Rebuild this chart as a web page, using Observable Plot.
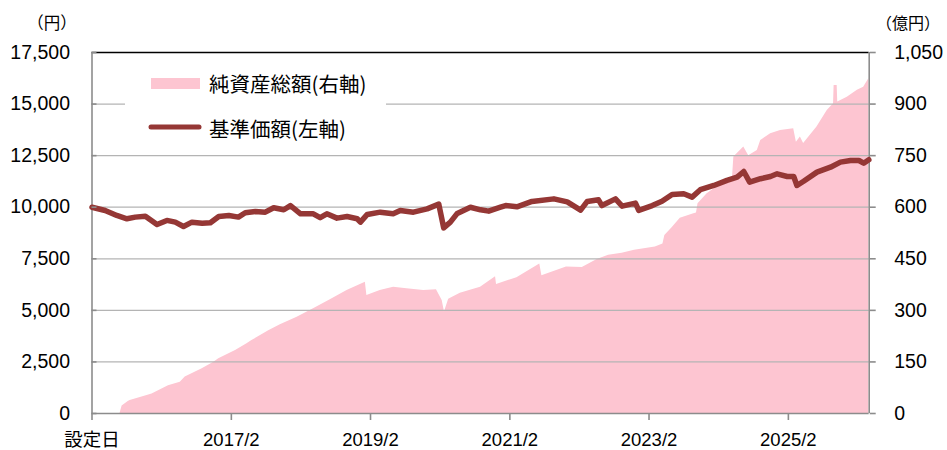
<!DOCTYPE html>
<html>
<head>
<meta charset="utf-8">
<script src="https://cdn.jsdelivr.net/npm/d3@7"></script>
<script src="https://cdn.jsdelivr.net/npm/@observablehq/plot@0.6"></script>
<style>
  html, body { margin: 0; padding: 0; background: #fff; }
  #chart { width: 947px; height: 450px; position: relative; }
</style>
</head>
<body>
<div id="chart"></div>
<script>
// ---- Data ----
// 基準価額 (円, left axis)
const navDates = [
  "2015-02-01","2015-04-11","2015-06-11","2015-08-03","2015-09-16","2015-11-08",
  "2016-01-08","2016-02-29","2016-04-13","2016-05-26","2016-07-09","2016-09-01",
  "2016-10-14","2016-11-27","2017-01-19","2017-03-10","2017-04-15","2017-06-07",
  "2017-07-29","2017-09-11","2017-11-03","2017-12-08","2018-01-30","2018-04-07",
  "2018-05-13","2018-06-17","2018-08-09","2018-10-01","2018-11-23","2018-12-10",
  "2019-01-15","2019-03-24","2019-05-31","2019-07-07","2019-09-14","2019-11-25",
  "2020-01-25","2020-02-20","2020-03-26","2020-05-01","2020-07-09","2020-08-31",
  "2020-10-13","2020-12-14","2021-01-10","2021-03-10","2021-05-28","2021-09-20",
  "2021-11-29","2022-02-07","2022-03-14","2022-05-12","2022-05-30","2022-08-09",
  "2022-09-13","2022-11-22","2022-12-09","2023-02-18","2023-04-10","2023-06-02",
  "2023-08-02","2023-09-15","2023-10-28","2024-01-07","2024-03-16","2024-05-08",
  "2024-06-12","2024-07-13","2024-09-08","2024-10-30","2024-12-04","2025-01-26",
  "2025-03-01","2025-03-18","2025-04-22","2025-07-01","2025-09-10","2025-11-01",
  "2025-12-24","2026-02-06","2026-03-03","2026-03-30"
];
const navValues = [
  10000, 9840, 9600, 9440, 9520, 9565,
  9160, 9360, 9275, 9065, 9275, 9225,
  9245, 9550, 9600, 9520, 9730, 9795,
  9760, 9975, 9875, 10080, 9680, 9680,
  9490, 9680, 9470, 9550, 9440, 9275,
  9650, 9760, 9680, 9840, 9760, 9920,
  10150, 9000, 9275, 9700, 10000, 9875,
  9810, 10000, 10080, 10020, 10280, 10405,
  10260, 9860, 10280, 10360, 10080, 10405,
  10050, 10200, 9850, 10080, 10290, 10620,
  10650, 10490, 10850, 11055, 11300, 11455,
  11730, 11215, 11380, 11490, 11620, 11490,
  11490, 11055, 11260, 11700, 11940, 12185,
  12265, 12265, 12135, 12300
];

// 純資産総額 (億円, right axis)
const assetDates = [
  "2015-02-01","2015-06-28","2015-07-09","2015-08-10","2015-08-20","2015-11-17",
  "2015-12-13","2016-03-08","2016-05-09","2016-06-04","2016-09-01","2016-11-01",
  "2016-11-27","2017-02-23","2017-04-24","2017-05-20","2017-08-16","2017-10-16",
  "2018-01-12","2018-04-08","2018-07-05","2018-10-01","2019-01-05","2019-01-13",
  "2019-03-24","2019-06-02","2019-08-11","2019-11-07","2020-01-13","2020-02-12",
  "2020-02-24","2020-03-17","2020-05-17","2020-08-31","2020-11-18","2020-11-23",
  "2021-03-10","2021-07-08","2021-07-19","2021-11-25","2022-02-16","2022-05-05",
  "2022-07-04","2022-09-13","2022-11-17","2023-03-06","2023-04-15","2023-04-25",
  "2023-06-02","2023-07-15","2023-09-24","2023-10-08","2023-10-16","2023-12-03",
  "2024-01-25","2024-04-13","2024-04-21","2024-06-12","2024-07-08","2024-08-22",
  "2024-09-09","2024-10-31","2024-12-22","2025-03-01","2025-03-15","2025-04-05",
  "2025-04-22","2025-07-01","2025-08-24","2025-09-26","2025-09-29","2025-10-15",
  "2025-10-18","2025-12-07","2026-01-29","2026-03-03","2026-03-30"
];
const assetValues = [
  0, 0, 22, 35, 38, 52,
  57, 81, 91, 106, 130, 149,
  159, 183, 203, 212, 241, 258,
  280, 305, 331, 358, 382, 343,
  358, 367, 363, 358, 360, 329,
  295, 332, 350, 367, 398, 375,
  395, 435, 401, 426, 425, 448,
  460, 466, 475, 484, 493, 518,
  540, 568, 581, 583, 610, 639,
  660, 678, 746, 775, 750, 765,
  794, 814, 823, 828, 789, 804,
  785, 833, 881, 901, 954, 954,
  906, 920, 940, 949, 974
];

// Axes
const yTicksLeft = [0, 2500, 5000, 7500, 10000, 12500, 15000, 17500];
const yMaxLeft = 17500;
const yMaxRight = 1050;
const xTickDates = ["2015-02-01","2017-02-01","2019-02-01","2021-02-01","2023-02-01","2025-02-01"];
const xTickLabels = ["設定日","2017/2","2019/2","2021/2","2023/2","2025/2"];
const xDomain = ["2015-02-01","2026-04-01"];

const legendLabels = ["純資産総額(右軸)", "基準価額(左軸)"];
const unitLeft = "（円）";
const unitRight = "（億円）";

// ---- Build tables ----
const K = yMaxLeft / yMaxRight;
const nav = navDates.map((d, i) => ({date: new Date(d), value: navValues[i]}));
const assets = assetDates.map((d, i) => ({date: new Date(d), value: assetValues[i]}));
const xTicks = xTickDates.map(d => new Date(d));
const labelOf = new Map(xTicks.map((d, i) => [+d, xTickLabels[i]]));
const fmt = d3.format(",");

const PINK = "#fdc5d1";
const RED = "#953735";
const GRID = "#b4b4b4";
const AXIS = "#8c8c8c";

const plot = Plot.plot({
  width: 947,
  height: 450,
  marginLeft: 91.5,
  marginRight: 78.3,
  marginTop: 52,
  marginBottom: 37,
  style: {
    fontFamily: "'Liberation Sans', 'Noto Sans CJK JP', sans-serif",
    fontSize: "19.5px",
    color: "#000",
    background: "#fff",
    overflow: "visible"
  },
  x: {type: "utc", domain: xDomain.map(d => new Date(d))},
  y: {domain: [0, yMaxLeft]},
  marks: [
    Plot.areaY(assets, {x: "date", y: d => d.value * K, fill: PINK, curve: "linear"}),
    Plot.gridY(yTicksLeft.filter(v => v > 0 && v < yMaxLeft), {stroke: GRID, strokeOpacity: 1, strokeWidth: 1.2}),
    Plot.ruleY([yMaxLeft], {stroke: "#000", strokeWidth: 1.6}),
    Plot.ruleY([0], {stroke: AXIS, strokeWidth: 1.6}),
    Plot.ruleX([new Date(xDomain[0])], {stroke: AXIS, strokeWidth: 1.6}),
    Plot.ruleX([new Date(xDomain[1])], {stroke: AXIS, strokeWidth: 1.6}),
    Plot.lineY(nav, {x: "date", y: "value", stroke: RED, strokeWidth: 5.5, strokeLinejoin: "round", strokeLinecap: "round", curve: "linear"}),
    Plot.axisY(yTicksLeft, {anchor: "left", tickSize: -5, tickPadding: 27, stroke: AXIS, strokeWidth: 1.6, tickFormat: d => fmt(d), label: null}),
    Plot.axisY(yTicksLeft, {anchor: "right", tickSize: 6, tickPadding: 19, stroke: AXIS, strokeWidth: 1.6, tickFormat: d => fmt(d / K), label: null}),
    Plot.axisX(xTicks, {anchor: "bottom", tickSize: 7, tickPadding: 12.5, fontSize: 18.5, stroke: AXIS, strokeWidth: 1.6, tickFormat: d => labelOf.get(+d), label: null})
  ]
});

document.getElementById("chart").appendChild(plot);

// ---- Unit labels and legend ----
const svg = d3.select(plot);
const cjk = "'Noto Sans CJK JP', 'Liberation Sans', sans-serif";

svg.append("text").text(unitLeft)
  .attr("x", 52).attr("y", 22).attr("text-anchor", "middle")
  .attr("dominant-baseline", "central")
  .style("font-family", cjk).style("font-size", "16.5px").attr("fill", "#000");
svg.append("text").text(unitRight)
  .attr("x", 876).attr("y", 22).attr("text-anchor", "start")
  .attr("dominant-baseline", "central")
  .style("font-family", cjk).style("font-size", "16px").attr("fill", "#000");

const lg = svg.append("g").attr("text-anchor", "start");
lg.append("rect").attr("x", 125).attr("y", 62).attr("width", 261).attr("height", 86).attr("fill", "#fff");
lg.append("rect").attr("x", 151).attr("y", 78).attr("width", 49).attr("height", 11).attr("fill", PINK);
lg.append("line").attr("x1", 151).attr("x2", 199).attr("y1", 127).attr("y2", 127)
  .attr("stroke", RED).attr("stroke-width", 5).attr("stroke-linecap", "round");
lg.append("text").text(legendLabels[0]).attr("x", 209).attr("y", 83)
  .attr("text-anchor", "start").attr("dominant-baseline", "central")
  .style("font-family", cjk).style("font-size", "20.5px").attr("fill", "#000");
lg.append("text").text(legendLabels[1]).attr("x", 209).attr("y", 127.5)
  .attr("text-anchor", "start").attr("dominant-baseline", "central")
  .style("font-family", cjk).style("font-size", "20.5px").attr("fill", "#000");
</script>
</body>
</html>
